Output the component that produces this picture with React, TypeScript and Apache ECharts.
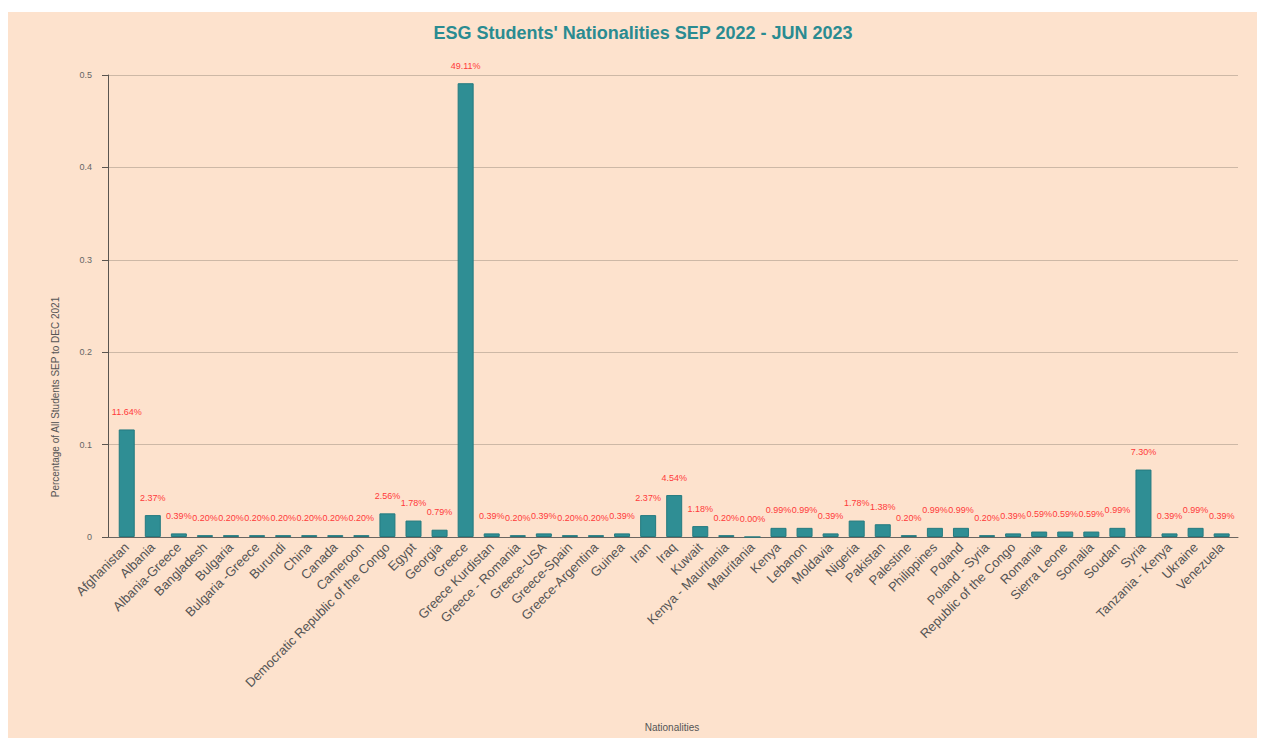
import React, { useEffect, useRef } from "react";
import * as echarts from "echarts";

const titleText = "ESG Students' Nationalities SEP 2022 - JUN 2023";
const yAxisTitle = "Percentage of All Students SEP to DEC 2021";
const xAxisTitle = "Nationalities";

const nationalities = [
  "Afghanistan",
  "Albania",
  "Albania-Greece",
  "Bangladesh",
  "Bulgaria",
  "Bulgaria -Greece",
  "Burundi",
  "China",
  "Canada",
  "Cameroon",
  "Democratic Republic of the Congo",
  "Egypt",
  "Georgia",
  "Greece",
  "Greece Kurdistan",
  "Greece - Romania",
  "Greece-USA",
  "Greece-Spain",
  "Greece-Argentina",
  "Guinea",
  "Iran",
  "Iraq",
  "Kuwait",
  "Kenya - Mauritania",
  "Mauritania",
  "Kenya",
  "Lebanon",
  "Moldavia",
  "Nigeria",
  "Pakistan",
  "Palestine",
  "Philippines",
  "Poland",
  "Poland - Syria",
  "Republic of the Congo",
  "Romania",
  "Sierra Leone",
  "Somalia",
  "Soudan",
  "Syria",
  "Tanzania - Kenya",
  "Ukraine",
  "Venezuela",
];

// percentages as shown in the labels
const percentages = [
  11.64, 2.37, 0.39, 0.2, 0.2, 0.2, 0.2, 0.2, 0.2, 0.2, 2.56, 1.78, 0.79, 49.11,
  0.39, 0.2, 0.39, 0.2, 0.2, 0.39, 2.37, 4.54, 1.18, 0.2, 0.0, 0.99, 0.99, 0.39,
  1.78, 1.38, 0.2, 0.99, 0.99, 0.2, 0.39, 0.59, 0.59, 0.59, 0.99, 7.3, 0.39,
  0.99, 0.39,
];

const yTicks = [0, 0.1, 0.2, 0.3, 0.4, 0.5];

export default function App() {
  const ref = useRef<HTMLDivElement>(null);

  useEffect(() => {
    document.body.style.margin = "0";
    const chart = echarts.init(ref.current!, undefined, { renderer: "svg" });
    const yMax = yTicks[yTicks.length - 1];
    const option: any = {
      animation: false,
      backgroundColor: "#fde2cd",
      textStyle: { fontFamily: "Arial, 'Liberation Sans', sans-serif" },
      graphic: [
        {
          type: "text",
          x: 635,
          y: 21,
          style: {
            text: titleText,
            fill: "#2a8b91",
            font: "bold 18px Arial, 'Liberation Sans', sans-serif",
            textAlign: "center",
            textVerticalAlign: "middle",
          },
        },
        {
          type: "text",
          x: 47,
          y: 385,
          rotation: Math.PI / 2,
          style: {
            text: yAxisTitle,
            fill: "#555",
            font: "10px Arial, 'Liberation Sans', sans-serif",
            textAlign: "center",
            textVerticalAlign: "middle",
          },
        },
        {
          type: "text",
          x: 664,
          y: 715,
          style: {
            text: xAxisTitle,
            fill: "#555",
            font: "10px Arial, 'Liberation Sans', sans-serif",
            textAlign: "center",
            textVerticalAlign: "middle",
          },
        },
      ],
      grid: [
        { left: 100, top: 63, width: 1130, height: 462, containLabel: false },
        { left: 105.7, top: 63, width: 1121, height: 462, containLabel: false },
      ],
      xAxis: [
        {
          type: "value",
          gridIndex: 0,
          min: 0,
          max: 1,
          axisLine: { show: true, onZero: false, lineStyle: { color: "#6b6560", width: 1 } },
          axisTick: { show: false },
          axisLabel: { show: false },
          splitLine: { show: false },
        },
        {
          type: "category",
          gridIndex: 1,
          data: nationalities,
          axisLine: { show: false },
          axisTick: { show: false },
          axisLabel: {
            rotate: 45,
            interval: 0,
            margin: 8,
            color: "#555",
            fontSize: 13,
          },
        },
      ],
      yAxis: [
        {
          type: "value",
          gridIndex: 0,
          min: 0,
          max: yMax,
          interval: 0.1,
          axisLine: { show: true, lineStyle: { color: "#5a5550", width: 1 } },
          axisTick: { show: true, length: 6, lineStyle: { color: "#5a5550" } },
          axisLabel: { color: "#666", fontSize: 9, margin: 16 },
          splitLine: { show: true, lineStyle: { color: "#cdb8a6", width: 1 } },
        },
        {
          type: "value",
          gridIndex: 1,
          min: 0,
          max: yMax,
          interval: 0.1,
          axisLine: { show: false },
          axisTick: { show: false },
          axisLabel: { show: false },
          splitLine: { show: false },
        },
      ],
      series: [
        {
          type: "bar",
          xAxisIndex: 1,
          yAxisIndex: 1,
          barWidth: 16,
          data: percentages.map((p) => p / 100),
          itemStyle: { color: "#2f8e94", borderColor: "#247a7f", borderWidth: 1 },
          label: {
            show: true,
            position: "top",
            distance: 13,
            color: "#ff3a3a",
            fontSize: 9,
            formatter: (p: any) => percentages[p.dataIndex].toFixed(2) + "%",
          },
        },
      ],
    };
    chart.setOption(option);
    return () => chart.dispose();
  }, []);

  return (
    <div
      ref={ref}
      style={{ position: "absolute", left: 8, top: 12, width: 1249, height: 726 }}
    />
  );
}
